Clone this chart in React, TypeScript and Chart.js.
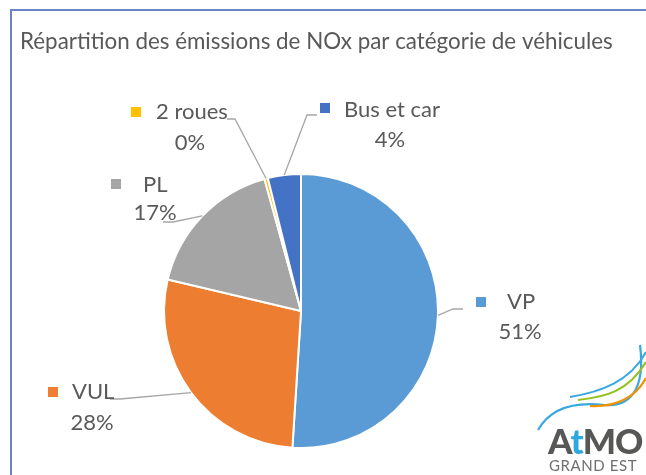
import React, { useEffect, useRef } from "react";
import { Chart, registerables } from "chart.js";

Chart.register(...registerables);

const TITLE = "Répartition des émissions de NOx par catégorie de véhicules";
const categories = ["VP", "VUL", "PL", "2 roues", "Bus et car"];
const shares = [51.0, 27.7, 17.0, 0.4, 3.9];
const sliceColors = ["#5B9BD5", "#ED7D31", "#A5A5A5", "#FFC000", "#4472C4"];

// label layout (annotation placement, not data)
const labelLayout = [
  { sq: [476, 297], tx: 507, ty: 302, px: 520, py: 332, bend: [453, 309], end: [463, 309] },
  { sq: [48, 387], tx: 72, ty: 392, px: 92, py: 423, bend: [120, 399], end: [110, 399] },
  { sq: [111, 179], tx: 143, ty: 185, px: 155, py: 213, bend: [173, 222], end: [163, 222] },
  { sq: [131, 107], tx: 156, ty: 112, px: 190, py: 143, bend: [235, 119], end: [227, 119] },
  { sq: [320, 103], tx: 344, ty: 110, px: 390, py: 140, bend: [307, 115], end: [317, 115] },
];

const TEXT_COLOR = "#595959";
const FONT = "Lato, 'Open Sans', sans-serif";

const decorPlugin = {
  id: "decor",
  beforeDraw(chart: any) {
    const ctx = chart.ctx;
    ctx.save();
    ctx.fillStyle = "#ffffff";
    ctx.fillRect(0, 0, chart.width, chart.height);
    ctx.strokeStyle = "#6A82C8";
    ctx.lineWidth = 2;
    ctx.beginPath();
    ctx.moveTo(11, chart.height);
    ctx.lineTo(11, 10);
    ctx.lineTo(chart.width, 10);
    ctx.stroke();
    // title, fitted to width
    ctx.font = `100px ${FONT}`;
    const w100 = ctx.measureText(TITLE).width;
    const size = (593 / w100) * 100;
    ctx.font = `${size}px ${FONT}`;
    ctx.fillStyle = TEXT_COLOR;
    ctx.textBaseline = "middle";
    ctx.textAlign = "left";
    ctx.fillText(TITLE, 20, 42);
    ctx.restore();
  },
  afterDatasetsDraw(chart: any) {
    const ctx = chart.ctx;
    const meta = chart.getDatasetMeta(0);
    const data = chart.data.datasets[0].data as number[];
    const total = data.reduce((a, b) => a + b, 0);
    ctx.save();
    meta.data.forEach((arc: any, i: number) => {
      const L = labelLayout[i];
      const mid = (arc.startAngle + arc.endAngle) / 2;
      const ex = arc.x + Math.cos(mid) * arc.outerRadius;
      const ey = arc.y + Math.sin(mid) * arc.outerRadius;
      ctx.strokeStyle = "#A6A6A6";
      ctx.lineWidth = 1.3;
      ctx.beginPath();
      ctx.moveTo(ex, ey);
      ctx.lineTo(L.bend[0], L.bend[1]);
      ctx.lineTo(L.end[0], L.end[1]);
      ctx.stroke();

      ctx.fillStyle = sliceColors[i];
      ctx.fillRect(L.sq[0], L.sq[1], 10, 10);

      ctx.fillStyle = TEXT_COLOR;
      ctx.font = `22px ${FONT}`;
      ctx.textBaseline = "middle";
      ctx.textAlign = "left";
      ctx.fillText(chart.data.labels[i], L.tx, L.ty);
      ctx.textAlign = "center";
      ctx.fillText(Math.round((data[i] / total) * 100) + "%", L.px, L.py);
    });
    ctx.restore();
  },
};

function Logo() {
  return (
    <svg
      width={110}
      height={135}
      viewBox="536 340 110 135"
      style={{ position: "absolute", left: 536, top: 340 }}
    >
      <path d="M 538 430 C 552 405, 580 402, 605 405 C 628 407, 646 392, 640 345" fill="none" stroke="#36A9E1" strokeWidth={2.2} />
      <path d="M 578 400 C 605 397, 628 392, 646 362" fill="none" stroke="#95C11F" strokeWidth={2.2} />
      <path d="M 590 406 C 615 407, 635 398, 646 378" fill="none" stroke="#F39200" strokeWidth={2.2} />
      <path d="M 570 397 C 600 392, 630 382, 646 352" fill="none" stroke="#36A9E1" strokeWidth={2} />
      <text x={548} y={454} fontFamily="Lato, 'Open Sans', sans-serif" fontWeight={900} fontSize={35} fill="#575756" letterSpacing={-1}>
        A<tspan fill="#2FA8E0">t</tspan>MO
      </text>
      <text x={549} y={471} fontFamily="Lato, 'Open Sans', sans-serif" fontWeight={400} fontSize={15} fill="#6F6F6E" letterSpacing={0.6}>
        GRAND EST
      </text>
    </svg>
  );
}

export default function App() {
  const ref = useRef<HTMLCanvasElement | null>(null);
  useEffect(() => {
    if (!ref.current) return;
    const chart = new Chart(ref.current, {
      type: "pie",
      data: {
        labels: categories,
        datasets: [
          {
            data: shares,
            backgroundColor: sliceColors,
            borderColor: "#ffffff",
            borderWidth: 2,
          },
        ],
      },
      options: {
        animation: false,
        responsive: true,
        maintainAspectRatio: false,
        layout: { padding: { left: 163, right: 207, top: 173, bottom: 26 } },
        plugins: { legend: { display: false }, tooltip: { enabled: false }, title: { display: false } },
      },
      plugins: [decorPlugin],
    });
    return () => chart.destroy();
  }, []);
  return (
    <div style={{ position: "fixed", left: 0, top: 0, width: 646, height: 475, background: "#fff", overflow: "hidden" }}>
      <canvas ref={ref} style={{ width: 646, height: 475 }} />
      <Logo />
    </div>
  );
}
